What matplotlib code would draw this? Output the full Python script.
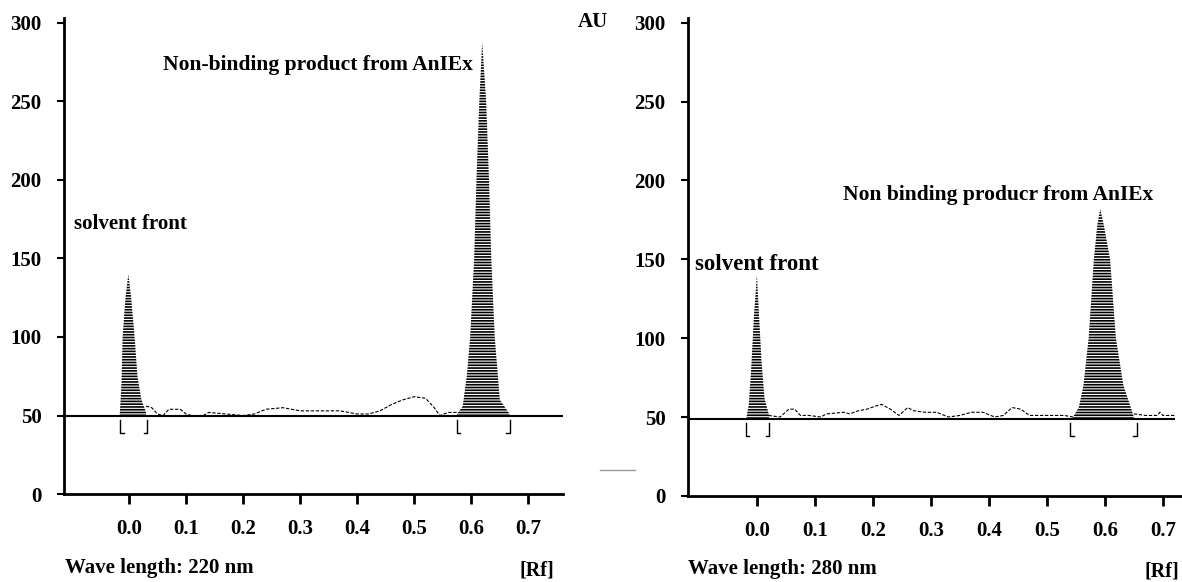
import numpy as np
import matplotlib.pyplot as plt

plt.rcParams['font.family'] = ['Liberation Serif', 'DejaVu Serif']
plt.rcParams['font.weight'] = 'bold'
plt.rcParams['hatch.linewidth'] = 1.2

# ---- 220 nm scan ----
l_base = 50
l_p1_rf = [-0.016, -0.013, -0.011, -0.006, -0.001, 0.004, 0.010, 0.015, 0.022, 0.030]
l_p1_au = [51, 70, 100, 125, 140, 125, 100, 75, 60, 52]
l_p2_rf = [0.575, 0.585, 0.592, 0.598, 0.605, 0.609, 0.614, 0.619, 0.626, 0.631, 0.635, 0.641, 0.650, 0.667]
l_p2_au = [51, 56, 75, 100, 150, 200, 250, 288, 250, 200, 150, 100, 60, 51]
l_noise_rf = [0.03, 0.04, 0.05, 0.06, 0.07, 0.09, 0.10, 0.11, 0.13, 0.14, 0.17, 0.20, 0.22, 0.24,
              0.27, 0.30, 0.33, 0.37, 0.40, 0.42, 0.44, 0.46, 0.48, 0.50, 0.52, 0.535, 0.545, 0.56, 0.575]
l_noise_au = [56, 55, 51, 50, 54, 54, 51, 50, 50, 52, 51, 50, 51, 54,
              55, 53, 53, 53, 51, 51, 53, 57, 60, 62, 61, 55, 50, 52, 52]
l_brackets = [(-0.015, 0.032), (0.575, 0.667)]

# ---- 280 nm scan ----
r_base = 49
r_p1_rf = [-0.018, -0.014, -0.010, -0.005, 0.000, 0.004, 0.008, 0.013, 0.021]
r_p1_au = [50, 58, 80, 115, 140, 112, 85, 62, 51]
r_p2_rf = [0.545, 0.555, 0.563, 0.572, 0.581, 0.587, 0.592, 0.598, 0.609, 0.619, 0.632, 0.643, 0.650]
r_p2_au = [50, 56, 70, 100, 150, 172, 182, 172, 150, 100, 70, 58, 50]
r_noise_rf = [0.02, 0.04, 0.055, 0.065, 0.075, 0.09, 0.11, 0.12, 0.15, 0.16, 0.175, 0.19, 0.205, 0.215,
              0.23, 0.245, 0.26, 0.27, 0.29, 0.31, 0.33, 0.35, 0.37, 0.39, 0.41, 0.425, 0.44, 0.455,
              0.47, 0.50, 0.53, 0.545]
r_noise_au = [51, 50, 55, 55, 51, 51, 50, 52, 53, 52, 54, 55, 57, 58,
              55, 51, 56, 54, 53, 53, 50, 51, 53, 53, 50, 51, 56, 55,
              51, 51, 51, 50]
r_tail_rf = [0.650, 0.67, 0.69, 0.695, 0.70, 0.72]
r_tail_au = [52, 51, 51, 53, 51, 51]
r_brackets = [(-0.019, 0.021), (0.540, 0.655)]

x_ticks = [0.0, 0.1, 0.2, 0.3, 0.4, 0.5, 0.6, 0.7]
y_ticks = [0, 50, 100, 150, 200, 250, 300]


def style(ax, xlim):
    ax.set_xlim(*xlim)
    ax.set_ylim(0, 303)
    for s in ['top', 'right']:
        ax.spines[s].set_visible(False)
    for s in ['left', 'bottom']:
        ax.spines[s].set_linewidth(2)
    ax.set_xticks(x_ticks)
    ax.set_xticklabels(['%.1f' % v for v in x_ticks])
    ax.set_yticks(y_ticks)
    ax.tick_params(axis='x', length=7, width=2, pad=11, labelsize=15)
    ax.tick_params(axis='y', length=5, width=1.5, pad=11, labelsize=15)


def peak(ax, rf, au, base):
    ax.fill_between(rf, base, au, facecolor='white', edgecolor='black',
                    hatch='------', linewidth=0)


def bracket(ax, lo, hi, base):
    ax.plot([lo, lo, lo + 0.006], [base - 3, base - 11, base - 11], color='black', lw=1)
    ax.plot([hi, hi, hi - 0.006], [base - 3, base - 11, base - 11], color='black', lw=1)


fig = plt.figure(figsize=(11.82, 5.82), dpi=100)
ax1 = fig.add_axes([0.054, 0.151, 0.422, 0.818])
ax2 = fig.add_axes([0.582, 0.148, 0.418, 0.821])

# left panel
style(ax1, (-0.114, 0.76))
ax1.axhline(l_base, color='black', lw=1.5)
peak(ax1, l_p1_rf, l_p1_au, l_base)
peak(ax1, l_p2_rf, l_p2_au, l_base)
ax1.plot(l_noise_rf, l_noise_au, color='black', lw=0.8, ls=(0, (3, 1.5)))
for lo, hi in l_brackets:
    bracket(ax1, lo, hi, l_base)
ax1.text(-0.096, 172, 'solvent front', fontsize=15, va='center', ha='left')
ax1.text(0.602, 273, 'Non-binding product from AnIEx', fontsize=15.5, va='center', ha='right')

# right panel
style(ax2, (-0.119, 0.733))
ax2.plot([-0.119, 0.72], [r_base, r_base], color='black', lw=1.5)
peak(ax2, r_p1_rf, r_p1_au, r_base)
peak(ax2, r_p2_rf, r_p2_au, r_base)
ax2.plot(r_noise_rf, r_noise_au, color='black', lw=0.8, ls=(0, (3, 1.5)))
ax2.plot(r_tail_rf, r_tail_au, color='black', lw=0.8, ls=(0, (3, 1.5)))
for lo, hi in r_brackets:
    bracket(ax2, lo, hi, r_base)
ax2.text(-0.107, 147, 'solvent front', fontsize=16.5, va='center', ha='left')
ax2.text(0.683, 191, 'Non binding producr from AnIEx', fontsize=15.5, va='center', ha='right')

fig.text(0.502, 0.962, 'AU', fontsize=15, ha='center', va='center')
fig.text(0.055, 0.024, 'Wave length: 220 nm', fontsize=15, ha='left', va='center')
fig.text(0.469, 0.020, '[Rf]', fontsize=14.5, ha='right', va='center')
fig.text(0.582, 0.022, 'Wave length: 280 nm', fontsize=15, ha='left', va='center')
fig.text(0.998, 0.018, '[Rf]', fontsize=14.5, ha='right', va='center')
fig.add_artist(plt.Line2D([0.508, 0.537], [0.192, 0.192], color='#999999', lw=1))

fig.savefig('out.png', dpi=100)
